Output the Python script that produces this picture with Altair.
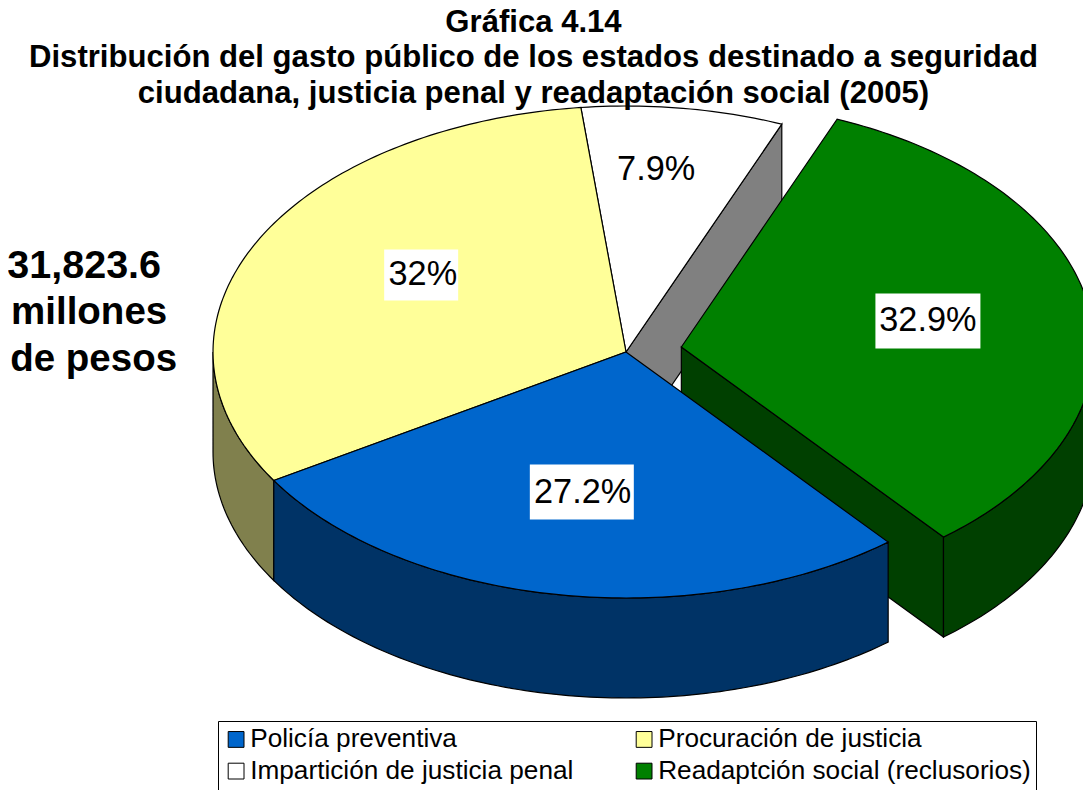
import math
import altair as alt
import pandas as pd

# ---- data ----
series = ["Policía preventiva", "Procuración de justicia", "Impartición de justicia penal", "Readaptción social (reclusorios)"]
values = [27.2, 32.0, 7.9, 32.9]
top_colors = ["#0066CC", "#FFFF99", "#FFFFFF", "#008000"]
side_colors = ["#003366", "#80804D", "#808080", "#004000"]
value_labels = ["27.2%", "32%", "7.9%", "32.9%"]
label_x = [-0.105, -0.492, 0.073, 0.731]
label_y = [-0.572, 0.313, 0.740, 0.126]
box_x = [-0.107, -0.496, 0.073, 0.731]
box_y = [-0.569, 0.313, 0.740, 0.126]
box_w = [104, 74, 0, 105]
box_h = [55, 51, 0, 55]
note_lines = ["31,823.6", "millones", "de pesos"]
note_x = [-1.312, -1.30, -1.289]
note_y = [0.349, 0.163, -0.028]
note_sizes = [39.5, 38.5, 38.5]
title_lines = ["Gráfica 4.14",
               "Distribución del gasto público de los estados destinado a seguridad",
               "ciudadana, justicia penal y readaptación social (2005)"]
# the legend fills column by column, so this order gives the reference's rows
legend_order = [0, 2, 1, 3]

START_ANGLE = 140.6   # clockwise from twelve o'clock
EXPLODE = 0.1355      # of the radius, last slice only
DEPTH = 100 / 246     # pie thickness in vertical radius units
FONT = "Liberation Sans"
EDGE = 1.2

x_scale = alt.Scale(domain=[-1.4964, 1.1065], nice=False, zero=False)
y_scale = alt.Scale(domain=[-1.7805, 1.0], nice=False, zero=False)
X = alt.X("x:Q", scale=x_scale, axis=None)
Y = alt.Y("y:Q", scale=y_scale, axis=None)


def pt(a, r=1.0):
    t = math.radians(a)
    return r * math.sin(t), r * math.cos(t)


def arc(a0, a1):
    n = max(2, int(abs(a1 - a0)) + 1)
    return [a0 + (a1 - a0) * k / (n - 1) for k in range(n)]


def frame(points, **extra):
    return pd.DataFrame([{"i": i, "x": p[0], "y": p[1], **extra} for i, p in enumerate(points)])


def shift(points, dx=0.0, dy=0.0):
    return [(p[0] + dx, p[1] + dy) for p in points]


def poly(points, fill):
    return alt.Chart(frame(points)).mark_line(
        interpolate="linear-closed", stroke="black", strokeWidth=EDGE, fill=fill
    ).encode(x=X, y=Y, order="i:Q")


legend = alt.Legend(
    orient="none", legendX=210, legendY=615, columns=2, title=None, symbolType="square",
    symbolSize=250, symbolStrokeColor="black", symbolStrokeWidth=1, labelFont=FONT,
    labelFontSize=26.2, labelColor="black", labelLimit=500, strokeColor="black",
    fillColor="white", padding=5, rowPadding=5, columnPadding=57, labelOffset=1,
)


def top(points, name):
    return alt.Chart(frame(points, serie=name)).mark_line(
        interpolate="linear-closed", stroke="black", strokeWidth=EDGE
    ).encode(
        x=X, y=Y, order="i:Q",
        fill=alt.Fill(
            "serie:N",
            scale=alt.Scale(domain=[series[k] for k in legend_order],
                            range=[top_colors[k] for k in legend_order]),
            legend=legend,
        ),
    )


# slice angle spans, clockwise from the start angle
spans = []
a = START_ANGLE
for v in values:
    spans.append((a, a + v * 3.6))
    a += v * 3.6
spans[3] = (spans[3][0] - 360, spans[3][1] - 360)
off = pt(sum(spans[3]) / 2, EXPLODE)


def wall(a0, a1, o=(0, 0)):
    """Outer wall of a slice for the front half of the ellipse (90..270 degrees)."""
    lo, hi = max(a0, 90), min(a1, 270)
    upper = [pt(t) for t in arc(lo, hi)]
    lower = [(p[0], p[1] - DEPTH) for p in reversed(upper)]
    return shift(upper + lower, *o)


def wedge(a0, a1, o=(0, 0)):
    return shift([(0, 0)] + [pt(t) for t in arc(a0, a1)], *o)


def cut(angle, o=(0, 0)):
    e = pt(angle)
    return shift([(0, 0), e, (e[0], e[1] - DEPTH), (0, -DEPTH)], *o)


layers = [
    poly(cut(spans[2][1]), side_colors[2]),
    poly(cut(spans[3][1], off), side_colors[3]),
    poly(wall(*spans[3], off), side_colors[3]),
    poly(wall(*spans[1]), side_colors[1]),
    poly(wall(*spans[0]), side_colors[0]),
]
for k in [3, 2, 1, 0]:
    layers.append(top(wedge(*spans[k], off if k == 3 else (0, 0)), series[k]))

boxes = pd.DataFrame({"x": box_x, "y": box_y, "w": box_w, "h": box_h})
for _, b in boxes[boxes.w > 0].iterrows():
    layers.append(
        alt.Chart(pd.DataFrame([b])).mark_rect(color="white", width=float(b.w), height=float(b.h)).encode(x=X, y=Y)
    )

layers.append(
    alt.Chart(pd.DataFrame({"x": label_x, "y": label_y, "t": value_labels})).mark_text(
        font=FONT, fontSize=34.3, color="black", baseline="middle", align="center"
    ).encode(x=X, y=Y, text="t:N")
)
for nx, ny, nt, ns in zip(note_x, note_y, note_lines, note_sizes):
    layers.append(
        alt.Chart(pd.DataFrame({"x": [nx], "y": [ny], "t": [nt]})).mark_text(
            font=FONT, fontSize=ns, fontWeight="bold", color="black", baseline="middle", align="center"
        ).encode(x=X, y=Y, text="t:N")
    )

chart = alt.layer(*layers).properties(
    width=1075, height=684,
    padding={"left": 0, "top": 98, "right": 0, "bottom": 0},
    autosize=alt.AutoSizeParams(type="none"),
    title=alt.Title(title_lines, font=FONT, fontSize=31.1, fontWeight="bold", color="black",
                    anchor="middle", lineHeight=35.5, dx=-12, dy=8, offset=3),
).configure_view(stroke=None).resolve_scale(fill="shared")

chart.save("out.html", embed_options={"renderer": "svg", "actions": False})
